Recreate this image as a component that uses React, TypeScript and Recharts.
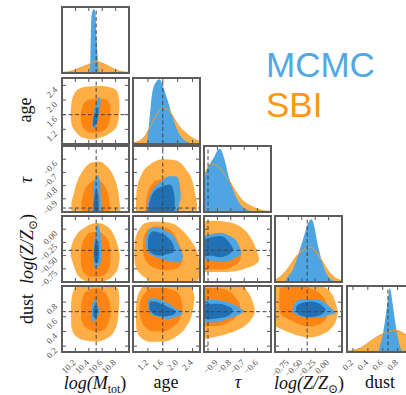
import { ComposedChart, Area, Line, XAxis, YAxis, ReferenceLine } from 'recharts';

type Tri = [number, number, number];
type Pt = [number, number];

// parameter axes: logM, age, tau, logZ, dust
const domains: [number, number][] = [[10.0, 11.0], [0.8, 2.6], [-1.0, -0.5], [-1.0, 0.25], [0.12, 1.02]];
const ticks = [[10.2, 10.4, 10.6, 10.8], [1.2, 1.6, 2.0, 2.4], [-0.9, -0.8, -0.7, -0.6], [-0.75, -0.5, -0.25, 0], [0.2, 0.4, 0.6, 0.8]];
const decimals = [1, 1, 1, 2, 1];
const truth = [10.51, 1.6, -0.97, -0.4, 0.67];

// 1D marginals [x, density]
const logMSbi: Pt[] = [[10.0, 0.01], [10.1, 0.02], [10.2, 0.05], [10.3, 0.09], [10.4, 0.13], [10.5, 0.175], [10.6, 0.15], [10.7, 0.1], [10.8, 0.05], [10.9, 0.02], [11.0, 0.01]];
const logMMc: Pt[] = [[10.42, 0], [10.43, 0.55], [10.44, 0.86], [10.46, 0.95], [10.48, 0.97], [10.5, 0.9], [10.51, 0.62], [10.52, 0.45], [10.535, 0.2], [10.55, 0]];
const ageSbi: Pt[] = [[0.8, 0.02], [0.99, 0.05], [1.12, 0.12], [1.25, 0.25], [1.39, 0.4], [1.52, 0.52], [1.6, 0.55], [1.71, 0.53], [1.84, 0.45], [2.0, 0.3], [2.19, 0.18], [2.32, 0.12], [2.45, 0.07], [2.6, 0.04]];
const ageMc: Pt[] = [[1.17, 0], [1.23, 0.3], [1.31, 0.75], [1.41, 0.93], [1.52, 0.98], [1.6, 0.88], [1.71, 0.7], [1.84, 0.45], [1.97, 0.24], [2.11, 0.1], [2.27, 0.03], [2.37, 0]];
const tauSbi: Pt[] = [[-1.0, 0.5], [-0.95, 0.73], [-0.92, 0.72], [-0.88, 0.66], [-0.86, 0.6], [-0.81, 0.47], [-0.76, 0.3], [-0.71, 0.17], [-0.66, 0.1], [-0.6, 0.045], [-0.55, 0.015], [-0.5, 0.01]];
const tauMc: Pt[] = [[-1.0, 0.57], [-0.96, 0.72], [-0.92, 0.85], [-0.9, 0.93], [-0.88, 0.96], [-0.85, 0.82], [-0.81, 0.5], [-0.77, 0.27], [-0.73, 0.12], [-0.7, 0.06], [-0.66, 0.02], [-0.6, 0]];
const logZSbi: Pt[] = [[-1.0, 0.03], [-0.9, 0.08], [-0.78, 0.18], [-0.59, 0.4], [-0.44, 0.5], [-0.35, 0.53], [-0.26, 0.48], [-0.13, 0.33], [0.02, 0.14], [0.17, 0.04], [0.25, 0.02]];
const logZMc: Pt[] = [[-0.82, 0], [-0.78, 0.06], [-0.67, 0.18], [-0.54, 0.48], [-0.45, 0.72], [-0.39, 0.88], [-0.32, 0.95], [-0.26, 0.82], [-0.22, 0.64], [-0.13, 0.33], [-0.04, 0.13], [0.07, 0.03], [0.12, 0]];
const dustSbi: Pt[] = [[0.12, 0.01], [0.3, 0.06], [0.43, 0.16], [0.57, 0.26], [0.71, 0.32], [0.78, 0.33], [0.85, 0.3], [0.94, 0.24], [1.02, 0.18]];
const dustMc: Pt[] = [[0.54, 0], [0.56, 0.08], [0.595, 0.23], [0.631, 0.48], [0.664, 0.74], [0.695, 0.97], [0.732, 0.74], [0.764, 0.48], [0.8, 0.23], [0.836, 0.07], [0.87, 0]];

// 2D contours [x, low, high]: SBI 1/2 sigma, MCMC 1/2 sigma
const mAgeSbi1: Tri[] = [[10.13, 1.55, 1.7], [10.144, 1.325, 1.947], [10.219, 1.102, 2.258], [10.318, 0.968, 2.347], [10.443, 0.924, 2.373], [10.567, 0.968, 2.39], [10.716, 1.102, 2.347], [10.816, 1.28, 2.258], [10.851, 1.59, 2.04], [10.858, 1.78, 1.85]];
const mAgeSbi2: Tri[] = [[10.28, 1.45, 1.62], [10.294, 1.325, 1.769], [10.343, 1.19, 1.947], [10.443, 1.102, 2.02], [10.567, 1.13, 2.035], [10.667, 1.236, 2.0], [10.716, 1.5, 1.858], [10.725, 1.62, 1.72]];
const mAgeMc1: Tri[] = [[10.455, 1.3, 1.38], [10.458, 1.236, 1.458], [10.483, 1.22, 1.769], [10.517, 1.325, 1.947], [10.552, 1.59, 2.08], [10.572, 1.858, 2.053], [10.575, 1.95, 2.0]];
const mAgeMc2: Tri[] = [[10.462, 1.35, 1.42], [10.468, 1.28, 1.5], [10.502, 1.325, 1.68], [10.537, 1.55, 1.81], [10.545, 1.7, 1.76]];

const mTauSbi1: Tri[] = [[10.14, -1.05, -0.93], [10.22, -1.05, -0.78], [10.32, -1.05, -0.68], [10.44, -1.05, -0.625], [10.55, -1.05, -0.617], [10.67, -1.05, -0.654], [10.77, -1.05, -0.73], [10.84, -1.05, -0.85], [10.87, -1.05, -0.97]];
const mTauSbi2: Tri[] = [[10.29, -1.05, -0.92], [10.34, -1.05, -0.83], [10.42, -1.05, -0.78], [10.52, -1.05, -0.754], [10.62, -1.05, -0.79], [10.69, -1.05, -0.87], [10.72, -1.05, -0.96]];
const mTauMc1: Tri[] = [[10.46, -1.05, -0.83], [10.49, -1.05, -0.754], [10.53, -1.05, -0.724], [10.57, -1.05, -0.78], [10.58, -1.0, -0.93]];
const mTauMc2: Tri[] = [[10.47, -1.05, -0.95], [10.51, -1.05, -0.83], [10.54, -1.05, -0.87], [10.55, -1.05, -0.97]];

const mZSbi1: Tri[] = [[10.13, -0.5, -0.38], [10.15, -0.59, -0.28], [10.22, -0.84, -0.099], [10.32, -0.96, 0.012], [10.44, -1.0, 0.099], [10.53, -1.0, 0.117], [10.67, -0.96, 0.056], [10.77, -0.87, -0.099], [10.84, -0.72, -0.35], [10.86, -0.56, -0.47]];
const mZSbi2: Tri[] = [[10.28, -0.6, -0.45], [10.29, -0.72, -0.35], [10.34, -0.84, -0.16], [10.42, -0.9, -0.068], [10.52, -0.9, -0.05], [10.62, -0.87, -0.099], [10.69, -0.78, -0.22], [10.72, -0.65, -0.41], [10.725, -0.56, -0.5]];
const mZMc1: Tri[] = [[10.465, -0.55, -0.45], [10.47, -0.65, -0.35], [10.5, -0.75, -0.1], [10.53, -0.72, 0.1], [10.57, -0.65, -0.04], [10.59, -0.53, -0.28], [10.595, -0.45, -0.38]];
const mZMc2: Tri[] = [[10.475, -0.48, -0.42], [10.48, -0.53, -0.38], [10.51, -0.65, -0.22], [10.54, -0.62, -0.22], [10.55, -0.5, -0.35], [10.553, -0.45, -0.4]];

const mDSbi1: Tri[] = [[10.135, 0.6, 0.72], [10.14, 0.467, 0.832], [10.19, 0.353, 0.993], [10.32, 0.284, 1.1], [10.52, 0.261, 1.1], [10.67, 0.307, 1.1], [10.79, 0.421, 1.015], [10.84, 0.604, 0.969], [10.855, 0.787, 0.878]];
const mDSbi2: Tri[] = [[10.285, 0.63, 0.72], [10.29, 0.558, 0.787], [10.34, 0.467, 0.924], [10.42, 0.421, 0.969], [10.52, 0.398, 0.993], [10.62, 0.421, 0.946], [10.69, 0.513, 0.855], [10.72, 0.604, 0.764], [10.725, 0.66, 0.71]];
const mDMc1: Tri[] = [[10.44, 0.6, 0.7], [10.443, 0.558, 0.741], [10.47, 0.535, 0.809], [10.5, 0.549, 0.842], [10.53, 0.604, 0.764], [10.557, 0.65, 0.695], [10.56, 0.665, 0.68]];
const mDMc2: Tri[] = [[10.465, 0.64, 0.68], [10.47, 0.604, 0.719], [10.5, 0.582, 0.764], [10.53, 0.65, 0.719], [10.535, 0.68, 0.7]];

const aTauSbi1: Tri[] = [[0.88, -1.05, -0.92], [0.9, -1.05, -0.83], [1.03, -1.05, -0.716], [1.25, -1.05, -0.642], [1.61, -1.05, -0.6], [1.96, -1.05, -0.61], [2.23, -1.05, -0.679], [2.41, -1.05, -0.778], [2.52, -1.05, -0.94]];
const aTauSbi2: Tri[] = [[1.14, -1.05, -0.96], [1.16, -1.05, -0.903], [1.3, -1.05, -0.791], [1.52, -1.05, -0.754], [1.79, -1.05, -0.749], [1.92, -1.05, -0.79], [2.01, -1.05, -0.903], [2.05, -1.05, -0.978]];
const aTauMc1: Tri[] = [[1.19, -1.05, -0.96], [1.21, -1.05, -0.916], [1.34, -1.05, -0.828], [1.52, -1.05, -0.778], [1.79, -1.05, -0.729], [1.96, -1.05, -0.729], [2.05, -0.93, -0.778], [2.08, -0.89, -0.853], [2.085, -0.875, -0.865]];
const aTauMc2: Tri[] = [[1.23, -1.05, -0.95], [1.25, -1.05, -0.916], [1.43, -1.05, -0.828], [1.61, -1.05, -0.804], [1.79, -1.05, -0.791], [1.88, -1.05, -0.828], [1.92, -0.97, -0.903]];

const aZSbi1: Tri[] = [[0.84, -0.5, -0.35], [0.85, -0.654, -0.22], [0.99, -0.84, 0.025], [1.16, -0.93, 0.12], [1.43, -1.05, 0.148], [1.79, -1.05, 0.12], [2.1, -1.05, -0.006], [2.36, -1.05, -0.22], [2.54, -0.963, -0.469], [2.6, -0.84, -0.65]];
const aZSbi2: Tri[] = [[1.07, -0.35, -0.25], [1.08, -0.47, -0.16], [1.21, -0.654, -0.006], [1.43, -0.747, 0.056], [1.7, -0.778, 0.025], [1.96, -0.747, -0.16], [2.1, -0.654, -0.41], [2.14, -0.56, -0.5]];
const aZMc1: Tri[] = [[1.15, -0.28, -0.2], [1.16, -0.346, -0.13], [1.25, -0.469, 0.012], [1.43, -0.531, 0.037], [1.7, -0.593, -0.037], [1.92, -0.624, -0.16], [2.05, -0.624, -0.346], [2.14, -0.531, -0.5]];
const aZMc2: Tri[] = [[1.2, -0.3, -0.24], [1.21, -0.377, -0.16], [1.34, -0.469, -0.037], [1.52, -0.5, -0.068], [1.74, -0.469, -0.16], [1.88, -0.438, -0.284], [1.9, -0.4, -0.33]];

const aDSbi1: Tri[] = [[0.88, 0.55, 0.72], [0.9, 0.421, 0.832], [1.03, 0.307, 0.993], [1.25, 0.261, 1.1], [1.61, 0.261, 1.1], [1.96, 0.33, 1.1], [2.23, 0.467, 1.1], [2.39, 0.65, 0.993], [2.45, 0.832, 0.878]];
const aDSbi2: Tri[] = [[0.98, 0.66, 0.74], [0.99, 0.604, 0.787], [1.12, 0.467, 0.924], [1.34, 0.398, 0.993], [1.61, 0.398, 0.993], [1.88, 0.467, 0.969], [2.05, 0.558, 0.9], [2.12, 0.672, 0.787], [2.13, 0.71, 0.75]];
const aDMc1: Tri[] = [[1.2, 0.76, 0.8], [1.21, 0.719, 0.832], [1.3, 0.627, 0.855], [1.52, 0.595, 0.832], [1.74, 0.568, 0.787], [1.92, 0.595, 0.719], [2.1, 0.627, 0.672], [2.12, 0.64, 0.655]];
const aDMc2: Tri[] = [[1.24, 0.73, 0.77], [1.25, 0.695, 0.809], [1.39, 0.627, 0.809], [1.61, 0.604, 0.764], [1.79, 0.613, 0.719], [1.92, 0.641, 0.686], [1.94, 0.655, 0.67]];

const tZSbi1: Tri[] = [[-1.05, -0.81, 0.15], [-0.93, -0.81, 0.16], [-0.83, -0.81, 0.136], [-0.733, -0.778, 0.056], [-0.659, -0.716, -0.13], [-0.61, -0.654, -0.377], [-0.59, -0.6, -0.53]];
const tZSbi2: Tri[] = [[-1.05, -0.765, -0.13], [-0.857, -0.765, -0.16], [-0.783, -0.704, -0.22], [-0.733, -0.593, -0.41], [-0.725, -0.53, -0.47]];
const tZMc1: Tri[] = [[-1.05, -0.562, -0.16], [-0.956, -0.593, -0.099], [-0.881, -0.624, -0.068], [-0.807, -0.593, -0.13], [-0.758, -0.531, -0.22], [-0.733, -0.5, -0.346], [-0.721, -0.45, -0.43]];
const tZMc2: Tri[] = [[-1.05, -0.5, -0.22], [-0.956, -0.5, -0.16], [-0.881, -0.531, -0.13], [-0.832, -0.5, -0.191], [-0.795, -0.438, -0.315], [-0.783, -0.39, -0.365]];

const tDSbi1: Tri[] = [[-1.05, 0.29, 1.1], [-0.93, 0.32, 1.1], [-0.857, 0.353, 1.1], [-0.758, 0.412, 1.1], [-0.684, 0.49, 0.969], [-0.647, 0.568, 0.855], [-0.622, 0.65, 0.72]];
const tDSbi2: Tri[] = [[-1.05, 0.467, 0.993], [-0.906, 0.476, 0.993], [-0.832, 0.513, 0.969], [-0.77, 0.582, 0.878], [-0.733, 0.672, 0.787]];
const tDMc1: Tri[] = [[-1.05, 0.535, 0.832], [-0.956, 0.522, 0.832], [-0.881, 0.535, 0.823], [-0.807, 0.582, 0.787], [-0.758, 0.613, 0.75], [-0.721, 0.65, 0.705], [-0.709, 0.672, 0.686]];
const tDMc2: Tri[] = [[-1.05, 0.595, 0.764], [-0.956, 0.568, 0.777], [-0.881, 0.582, 0.777], [-0.832, 0.604, 0.75], [-0.795, 0.65, 0.719], [-0.785, 0.675, 0.695]];

const zDSbi1: Tri[] = [[-1.05, 0.49, 1.1], [-0.846, 0.421, 1.1], [-0.599, 0.353, 1.1], [-0.352, 0.321, 1.1], [-0.105, 0.367, 1.015], [0.049, 0.444, 0.924], [0.142, 0.558, 0.764], [0.173, 0.65, 0.672]];
const zDSbi2: Tri[] = [[-0.92, 0.72, 0.9], [-0.907, 0.65, 0.993], [-0.784, 0.582, 1.015], [-0.599, 0.513, 1.1], [-0.352, 0.467, 0.993], [-0.136, 0.513, 0.9], [-0.043, 0.582, 0.787], [-0.012, 0.65, 0.695]];
const zDMc1: Tri[] = [[-0.67, 0.68, 0.71], [-0.66, 0.65, 0.741], [-0.599, 0.627, 0.809], [-0.475, 0.595, 0.842], [-0.29, 0.582, 0.842], [-0.105, 0.595, 0.809], [0.019, 0.627, 0.741], [0.111, 0.65, 0.672], [0.12, 0.655, 0.665]];
const zDMc2: Tri[] = [[-0.61, 0.7, 0.72], [-0.599, 0.672, 0.741], [-0.506, 0.613, 0.787], [-0.352, 0.595, 0.809], [-0.198, 0.613, 0.787], [-0.105, 0.65, 0.741], [-0.056, 0.686, 0.705]];

const panels2d = [
  { row: 1, col: 0, layers: [mAgeSbi1, mAgeSbi2, mAgeMc1, mAgeMc2] },
  { row: 2, col: 0, layers: [mTauSbi1, mTauSbi2, mTauMc1, mTauMc2] },
  { row: 3, col: 0, layers: [mZSbi1, mZSbi2, mZMc1, mZMc2] },
  { row: 4, col: 0, layers: [mDSbi1, mDSbi2, mDMc1, mDMc2] },
  { row: 2, col: 1, layers: [aTauSbi1, aTauSbi2, aTauMc1, aTauMc2] },
  { row: 3, col: 1, layers: [aZSbi1, aZSbi2, aZMc1, aZMc2] },
  { row: 4, col: 1, layers: [aDSbi1, aDSbi2, aDMc1, aDMc2] },
  { row: 3, col: 2, layers: [tZSbi1, tZSbi2, tZMc1, tZMc2] },
  { row: 4, col: 2, layers: [tDSbi1, tDSbi2, tDMc1, tDMc2] },
  { row: 4, col: 3, layers: [zDSbi1, zDSbi2, zDMc1, zDMc2] },
];
const diagPanels = [
  { i: 0, sbi: logMSbi, mc: logMMc },
  { i: 1, sbi: ageSbi, mc: ageMc },
  { i: 2, sbi: tauSbi, mc: tauMc },
  { i: 3, sbi: logZSbi, mc: logZMc },
  { i: 4, sbi: dustSbi, mc: dustMc },
];

const ORANGE_LIGHT = '#ffae45';
const ORANGE_DARK = '#fe8414';
const BLUE_LIGHT = '#4ea5e1';
const BLUE_DARK = '#2170b4';
const ORANGE_LINE = '#f0a034';
const layerColors = [ORANGE_LIGHT, ORANGE_DARK, BLUE_LIGHT, BLUE_DARK];

// layout: the axes own the label space (YAxis width = AL, XAxis height = AB)
const W = 67;
const H = 66;
const colLeft = [62, 133, 204, 275, 347];
const rowTop = [7, 78, 146, 216, 286];
const AL = 48;
const AB = 34;
const PAD = 2;
const TICK = '#555';
const serif = '"Liberation Serif", "DejaVu Serif", serif';

const fmt = (v: number, d: number) => (v < 0 ? '\u2212' : '') + Math.abs(v).toFixed(d);
const toRange = (a: Tri[]) => a.map(([x, lo, hi]) => ({ x, r: [lo, hi] }));
const toPts = (a: Pt[]) => a.map(([x, y]) => ({ x, y }));

const makeXTick = (p: number, showLabel: boolean) => (props: any) => {
  const x = props.x;
  const bottom = PAD + H;
  const lx = x + 1;
  const ly = bottom + 11;
  return (
    <g>
      <line x1={x} x2={x} y1={bottom} y2={bottom - 4} stroke={TICK} strokeWidth={1} />
      <line x1={x} x2={x} y1={PAD} y2={PAD + 4} stroke={TICK} strokeWidth={1} />
      {showLabel && (
        <text x={lx} y={ly} transform={`rotate(-45 ${lx} ${ly})`} textAnchor="end" fontSize={9} fill="#555" fontFamily={serif}>
          {fmt(props.payload.value, decimals[p])}
        </text>
      )}
    </g>
  );
};

const makeYTick = (p: number, showLabel: boolean) => (props: any) => {
  const y = props.y;
  const lx = AL - 4;
  const ly = y + 5;
  return (
    <g>
      <line x1={AL} x2={AL + 4} y1={y} y2={y} stroke={TICK} strokeWidth={1} />
      <line x1={AL + W} x2={AL + W - 4} y1={y} y2={y} stroke={TICK} strokeWidth={1} />
      {showLabel && (
        <text x={lx} y={ly} transform={`rotate(-45 ${lx} ${ly})`} textAnchor="end" fontSize={9} fill="#555" fontFamily={serif}>
          {fmt(props.payload.value, decimals[p])}
        </text>
      )}
    </g>
  );
};

function Frame({ row, col }: { row: number; col: number }) {
  return (
    <div
      style={{
        position: 'absolute',
        left: colLeft[col] - 1,
        top: rowTop[row] - 1,
        width: W + 2,
        height: H + 2,
        border: '2px solid #5c5c5c',
        boxSizing: 'border-box',
        pointerEvents: 'none',
      }}
    />
  );
}

const chartSize = { width: AL + W + PAD, height: PAD + H + AB };
const chartMargin = { top: PAD, right: PAD, bottom: 0, left: 0 };

function Panel2D({ row, col, layers }: { row: number; col: number; layers: Tri[][] }) {
  return (
    <div style={{ position: 'absolute', left: colLeft[col] - AL, top: rowTop[row] - PAD }}>
      <ComposedChart {...chartSize} margin={chartMargin}>
        <XAxis type="number" dataKey="x" domain={domains[col]} ticks={ticks[col]} allowDataOverflow height={AB}
          tickSize={0} tickMargin={0} axisLine={false} tickLine={false} interval={0} tick={makeXTick(col, row === 4)} />
        <YAxis type="number" domain={domains[row]} ticks={ticks[row]} allowDataOverflow width={AL}
          tickSize={0} tickMargin={0} axisLine={false} tickLine={false} interval={0} tick={makeYTick(row, col === 0)} />
        {layers.map((set, k) => (
          <Area key={k} data={toRange(set)} dataKey="r" type="monotone" stroke="none" fill={layerColors[k]}
            fillOpacity={1} isAnimationActive={false} />
        ))}
        <ReferenceLine x={truth[col]} stroke="#444" strokeDasharray="4 2.5" strokeWidth={1} />
        <ReferenceLine y={truth[row]} stroke="#444" strokeDasharray="4 2.5" strokeWidth={1} />
      </ComposedChart>
    </div>
  );
}

function PanelDiag({ i, sbi, mc }: { i: number; sbi: Pt[]; mc: Pt[] }) {
  return (
    <div style={{ position: 'absolute', left: colLeft[i] - AL, top: rowTop[i] - PAD }}>
      <ComposedChart {...chartSize} margin={{ ...chartMargin, left: AL }}>
        <XAxis type="number" dataKey="x" domain={domains[i]} ticks={ticks[i]} allowDataOverflow height={AB}
          tickSize={0} tickMargin={0} axisLine={false} tickLine={false} interval={0} tick={makeXTick(i, i === 4)} />
        <YAxis type="number" domain={[0, 1]} hide allowDataOverflow />
        <Area data={toPts(sbi)} dataKey="y" type="monotone" stroke="none" fill={ORANGE_LIGHT} fillOpacity={1} isAnimationActive={false} />
        <Area data={toPts(mc)} dataKey="y" type="monotone" stroke="none" fill={BLUE_LIGHT} fillOpacity={1} isAnimationActive={false} />
        <Line data={toPts(sbi)} dataKey="y" type="monotone" stroke={ORANGE_LINE} strokeWidth={1} dot={false} isAnimationActive={false} />
        <ReferenceLine x={truth[i]} stroke="#444" strokeDasharray="4 2.5" strokeWidth={1} />
      </ComposedChart>
    </div>
  );
}

export default function App() {
  return (
    <div style={{ position: 'absolute', left: 0, top: 0, width: 406, height: 395, overflow: 'hidden', background: '#fff' }}>
      {diagPanels.map((d) => (
        <PanelDiag key={'d' + d.i} {...d} />
      ))}
      {panels2d.map((p) => (
        <Panel2D key={p.row + '-' + p.col} {...p} />
      ))}
      {diagPanels.map((d) => (
        <Frame key={'fd' + d.i} row={d.i} col={d.i} />
      ))}
      {panels2d.map((p) => (
        <Frame key={'f' + p.row + '-' + p.col} row={p.row} col={p.col} />
      ))}
      <svg width={406} height={395} style={{ position: 'absolute', left: 0, top: 0, pointerEvents: 'none' }}>
        <g fontFamily={serif} fontSize={18} fill="#111">
          <text x={95} y={389} textAnchor="middle">
            <tspan fontStyle="italic">log(M</tspan>
            <tspan fontSize={12} dy={4}>tot</tspan>
            <tspan dy={-4}>)</tspan>
          </text>
          <text x={166} y={388} textAnchor="middle">age</text>
          <text x={238} y={388} textAnchor="middle" fontStyle="italic">τ</text>
          <text x={309} y={389} textAnchor="middle">
            <tspan fontStyle="italic">log(Z/Z</tspan>
            <tspan fontSize={12} dy={4}>⊙</tspan>
            <tspan dy={-4}>)</tspan>
          </text>
          <text x={380} y={388} textAnchor="middle">dust</text>
          <text x={31} y={110} textAnchor="middle" transform="rotate(-90 31 110)">age</text>
          <text x={32} y={180} textAnchor="middle" fontStyle="italic" transform="rotate(-90 32 180)">τ</text>
          <text x={33} y={249} textAnchor="middle" transform="rotate(-90 33 249)">
            <tspan fontStyle="italic">log(Z/Z</tspan>
            <tspan fontSize={12} dy={4}>⊙</tspan>
            <tspan dy={-4}>)</tspan>
          </text>
          <text x={33} y={309} textAnchor="middle" transform="rotate(-90 33 309)">dust</text>
        </g>
        <g fontFamily='"Liberation Sans", Arial, sans-serif' fontSize={35}>
          <text x={266} y={77} fill="#52a8e2">MCMC</text>
          <text x={266} y={117} fill="#ff9614">SBI</text>
        </g>
      </svg>
    </div>
  );
}
